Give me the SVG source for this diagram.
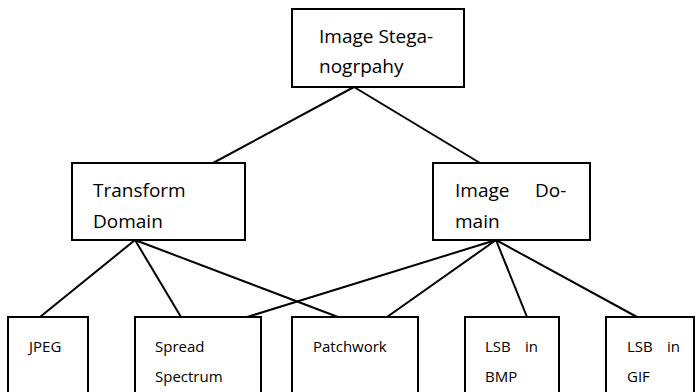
<svg xmlns="http://www.w3.org/2000/svg" width="696" height="392" viewBox="0 0 696 392">
<style>
.box{fill:#fff;stroke:#000;stroke-width:2}
.ln{stroke:#000;stroke-width:2;fill:none}
.t{font-family:"Open Sans","Noto Sans","Liberation Sans",sans-serif;font-size:19px;fill:#000}
.s{font-family:"Open Sans","Noto Sans","Liberation Sans",sans-serif;font-size:15px;fill:#000}
</style>
<rect width="696" height="392" fill="#fff"/>
<g id="connectors">
<line class="ln" x1="354" y1="87" x2="213" y2="163"/>
<line class="ln" x1="354" y1="87" x2="480" y2="163"/>
<line class="ln" x1="135" y1="240" x2="40" y2="317"/>
<line class="ln" x1="135" y1="240" x2="181" y2="317"/>
<line class="ln" x1="135" y1="240" x2="338" y2="317"/>
<line class="ln" x1="496" y1="240" x2="247" y2="317"/>
<line class="ln" x1="496" y1="240" x2="387" y2="317"/>
<line class="ln" x1="496" y1="240" x2="527" y2="317"/>
<line class="ln" x1="496" y1="240" x2="637" y2="317"/>
</g>
<g id="root">
<rect class="box" x="292" y="9" width="172" height="78"/>
<text class="t" x="319" y="43">Image Stega-</text>
<text class="t" x="319" y="73">nogrpahy</text>
</g>
<g id="transform">
<rect class="box" x="72" y="163" width="173" height="77"/>
<text class="t" x="93" y="197">Transform</text>
<text class="t" x="93" y="228">Domain</text>
</g>
<g id="imagedomain">
<rect class="box" x="433" y="163" width="157" height="77"/>
<text class="t" x="455" y="197">Image</text>
<text class="t" x="535" y="197">Do-</text>
<text class="t" x="455" y="228">main</text>
</g>
<g id="jpeg">
<rect class="box" x="8" y="317" width="80" height="90"/>
<text class="s" x="29" y="352">JPEG</text>
</g>
<g id="spread">
<rect class="box" x="135" y="317" width="126" height="90"/>
<text class="s" x="155" y="352">Spread</text>
<text class="s" x="155" y="382">Spectrum</text>
</g>
<g id="patchwork">
<rect class="box" x="292" y="317" width="126" height="90"/>
<text class="s" x="313" y="352">Patchwork</text>
</g>
<g id="lsbbmp">
<rect class="box" x="465" y="317" width="94" height="90"/>
<text class="s" x="485" y="352">LSB</text>
<text class="s" x="525" y="352">in</text>
<text class="s" x="485" y="382">BMP</text>
</g>
<g id="lsbgif">
<rect class="box" x="606" y="317" width="88" height="90"/>
<text class="s" x="627" y="352">LSB</text>
<text class="s" x="667" y="352">in</text>
<text class="s" x="627" y="382">GIF</text>
</g>
</svg>
